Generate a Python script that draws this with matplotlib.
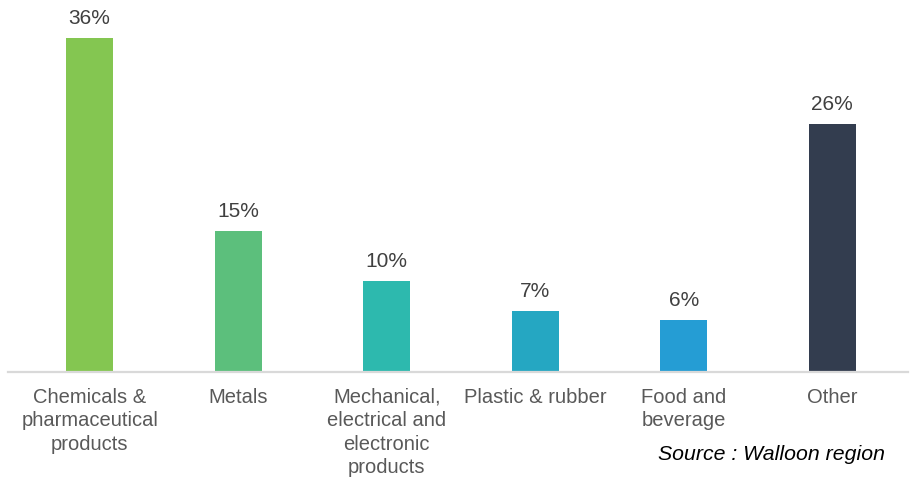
import matplotlib
matplotlib.use("Agg")
import matplotlib.pyplot as plt

categories = ["Chemicals &\npharmaceutical\nproducts", "Metals",
              "Mechanical,\nelectrical and\nelectronic\nproducts",
              "Plastic & rubber", "Food and\nbeverage", "Other"]
values = [36.0, 15.2, 9.8, 6.6, 5.6, 26.7]
value_labels = ["36%", "15%", "10%", "7%", "6%", "26%"]
colors = ["#84C651", "#5CBF7C", "#2DB9AE", "#25A7C2", "#259DD4", "#333D4F"]

plt.rcParams['font.family'] = ['Liberation Sans', 'DejaVu Sans']

fig = plt.figure(figsize=(9.11, 4.78), dpi=100)
ax = fig.add_axes([8/911, 106/478, 900/911, 371/478])
x = list(range(len(categories)))
bars = ax.bar(x, values, width=0.316, color=colors, zorder=2)
for xi, v, lab in zip(x, values, value_labels):
    ax.annotate(lab, (xi, v), xytext=(0, 10), textcoords="offset points",
                ha="center", va="baseline", fontsize=15, color="#404040")
ax.set_xlim(-0.55, 5.51)
ax.set_ylim(0, 40)
ax.set_xticks(x)
ax.set_xticklabels(categories, fontsize=14.5, color="#595959", linespacing=1.29)
ax.tick_params(axis="x", length=0, pad=11.5)
ax.set_yticks([])
for s in ["top", "right", "left"]:
    ax.spines[s].set_visible(False)
ax.spines["bottom"].set_color("#D9D9D9")
ax.spines["bottom"].set_linewidth(1.6)
fig.text(885/911, 18/478, "Source : Walloon region", ha="right", va="baseline",
         fontsize=15.3, style="italic", color="black")
fig.savefig("out.png", dpi=100)
